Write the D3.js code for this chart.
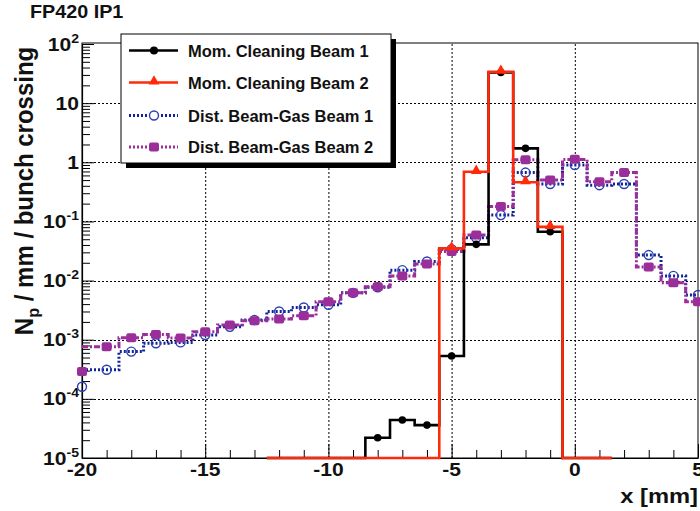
<!DOCTYPE html>
<html lang="en">
<head>
<meta charset="UTF-8">
<title>FP420 IP1</title>
<script src="https://cdn.jsdelivr.net/npm/d3@7"></script>
<style>
    body { margin: 0; background: #fff; }
    text { font-family: "Liberation Sans", Arial, sans-serif; font-weight: bold; fill: #111; }
</style>
</head>
<body>
<svg id="canvas" width="700" height="511"></svg>
<script>
// bin centres (mm) and contents
const gasX = [-20, -19, -18, -17, -16, -15, -14, -13, -12, -11, -10, -9, -8, -7, -6, -5, -4, -3, -2, -1, 0, 1, 2, 3, 4, 5];
const gasBeam1 = [1.6e-4, 3.1e-4, 6.3e-4, 8.7e-4, 9.0e-4, 1.2e-3, 1.65e-3, 2.15e-3, 3.0e-3, 3.5e-3, 3.9e-3, 6.2e-3, 7.7e-3,
                  0.015, 0.021, 0.034, 0.053, 0.128, 0.67, 0.43, 0.9, 0.41, 0.43, 0.027, 0.012, 0.0057];
const gasBeam2 = [2.9e-4, 7.6e-4, 1.08e-3, 1.22e-3, 1.07e-3, 1.36e-3, 1.78e-3, 2.1e-3, 2.24e-3, 2.55e-3, 4.4e-3, 6.2e-3, 7.9e-3,
                  0.012, 0.019, 0.031, 0.059, 0.178, 1.1, 0.5, 1.12, 0.47, 0.67, 0.017, 0.0092, 0.0044];

const momX = [-12, -11, -10, -9, -8, -7, -6, -5, -4, -3, -2, -1, 0, 1];
const momBeam1 = [0, 0, 0, 0, 2.2e-5, 4.4e-5, 3.6e-5, 5.3e-4, 0.041, 33, 1.72, 0.067, 0, 0];
const momBeam2 = [0, 0, 0, 0, 0, 0, 0, 0.035, 0.69, 34, 0.46, 0.081, 0, 0];

const seriesNames = ["Mom. Cleaning Beam 1", "Mom. Cleaning Beam 2", "Dist. Beam-Gas Beam 1", "Dist. Beam-Gas Beam 2"];

const xTickVals = [-20, -15, -10, -5, 0, 5];
const xTickLabels = ["-20", "-15", "-10", "-5", "0", "5"];
const yTickVals = [1e-5, 1e-4, 1e-3, 1e-2, 1e-1, 1, 10, 100];
const yTickBase = ["10", "10", "10", "10", "10", "1", "10", "10"];
const yTickExp = ["-5", "-4", "-3", "-2", "-1", "", "", "2"];

const svg = d3.select("#canvas");
const pLeft = 82, pRight = 698, pTop = 44, pBottom = 458;

const x = d3.scaleLinear().domain([-20, 5]).range([pLeft, pRight]);
const y = d3.scaleLog().domain([1e-5, 100]).range([pBottom, pTop]);
const yv = v => y(Math.max(v, 1e-5));   // empty bins sit on the axis

const blue = "#0f2496", purple = "#9a2e9a", red = "#ff2a0a";

// frame
svg.append("rect")
    .attr("x", pLeft).attr("y", pTop - 1)
    .attr("width", pRight - pLeft).attr("height", pBottom - pTop + 1)
    .attr("fill", "none").attr("stroke", "#000").attr("stroke-width", 1);

// grid
const grid = svg.append("g").attr("stroke", "#000").attr("stroke-width", 1).attr("stroke-dasharray", "2,2");
grid.selectAll("line.gx").data([-15, -10, -5, 0]).enter().append("line")
    .attr("x1", d => x(d) + 0.5).attr("x2", d => x(d) + 0.5)
    .attr("y1", pTop).attr("y2", pBottom);
grid.selectAll("line.gy").data([1e-4, 1e-3, 1e-2, 1e-1, 1, 10]).enter().append("line")
    .attr("x1", pLeft).attr("x2", pRight)
    .attr("y1", d => Math.round(y(d)) + 0.5).attr("y2", d => Math.round(y(d)) + 0.5);

// axes: ticks pointing into the frame
const xMinor = d3.range(-20, 6);
const xAxis = svg.append("g")
    .attr("transform", `translate(0,${pBottom})`)
    .call(d3.axisBottom(x).tickValues(xMinor).tickSize(-8).tickSizeOuter(0).tickFormat(""));
xAxis.selectAll(".tick line").filter(d => d % 5 === 0).attr("y2", -14);
xAxis.select(".domain").attr("stroke-width", 1.2);

const yMinor = [];
for (let e = -5; e < 2; e++) for (let k = 1; k < 10; k++) yMinor.push(k * Math.pow(10, e));
yMinor.push(100);
const yAxis = svg.append("g")
    .attr("transform", `translate(${pLeft},0)`)
    .call(d3.axisLeft(y).tickValues(yMinor).tickSize(-8).tickSizeOuter(0).tickFormat(""));
yAxis.selectAll(".tick line").filter(d => yTickVals.some(t => Math.abs(t - d) / t < 1e-9)).attr("x2", 12);
yAxis.select(".domain").attr("stroke-width", 1.2);

// tick labels (slightly wide lettering like the original)
xTickVals.forEach((v, i) => {
    svg.append("g").attr("transform", `translate(${x(v)},476) scale(1.17,1)`)
        .append("text").attr("text-anchor", "middle").attr("font-size", 18).text(xTickLabels[i]);
});
yTickVals.forEach((v, i) => {
    const t = svg.append("g").attr("transform", `translate(79,${y(v) + 6.5}) scale(1.17,1)`)
        .append("text").attr("text-anchor", "end").attr("font-size", 18);
    t.append("tspan").text(yTickBase[i]);
    if (yTickExp[i]) t.append("tspan").attr("dy", -8).attr("font-size", 12).text(yTickExp[i]);
});

// titles
svg.append("g").attr("transform", "translate(30,18) scale(1.04,1)")
    .append("text").attr("font-size", 19).text("FP420 IP1");
svg.append("g").attr("transform", "translate(698,503) scale(1.13,1)")
    .append("text").attr("text-anchor", "end").attr("font-size", 21).text("x [mm]");
const yt = svg.append("g").attr("transform", "translate(33,191) rotate(-90) scale(1.09,1.16)")
    .append("text").attr("text-anchor", "middle").attr("font-size", 22);
yt.append("tspan").text("N");
yt.append("tspan").attr("dy", 5).attr("font-size", 15).text("p");
yt.append("tspan").attr("dy", -5).text(" / mm / bunch crossing");

// histogram outline: one horizontal per bin, verticals join the bins
function steps(xs, vs, from) {
    const pts = [];
    xs.forEach((c, i) => {
        if (i < from) return;
        pts.push([c - 0.5, vs[i]], [c + 0.5, vs[i]]);
    });
    pts.forEach(p => p[0] = Math.max(-20, Math.min(5, p[0])));
    if (from > 0) pts[0][0] = -20;
    return pts;
}
const line = d3.line().x(d => x(d[0])).y(d => yv(d[1]));

// Dist. Beam-Gas Beam 1
svg.append("path").attr("d", line(steps(gasX, gasBeam1, 1)))
    .attr("fill", "none").attr("stroke", blue).attr("stroke-width", 3).attr("stroke-dasharray", "2,2");
// Dist. Beam-Gas Beam 2
svg.append("path").attr("d", line(steps(gasX, gasBeam2, 1)))
    .attr("fill", "none").attr("stroke", purple).attr("stroke-width", 3).attr("stroke-dasharray", "6,2,2,2");

svg.append("g").selectAll("circle").data(gasX).enter().append("circle")
    .attr("cx", d => x(d)).attr("cy", (d, i) => yv(gasBeam1[i])).attr("r", 4.5)
    .attr("fill", "none").attr("stroke", "#2b3fb5").attr("stroke-width", 1.4);
svg.append("g").selectAll("rect").data(gasX).enter().append("rect")
    .attr("x", d => x(d) - 5).attr("y", (d, i) => yv(gasBeam2[i]) - 4.5)
    .attr("width", 10).attr("height", 9).attr("rx", 2)
    .attr("fill", purple);

// Mom. Cleaning Beam 1
svg.append("path").attr("d", line(steps(momX, momBeam1, 0)))
    .attr("fill", "none").attr("stroke", "#000").attr("stroke-width", 2.6);
svg.append("g").selectAll("circle").data(momX.filter((d, i) => momBeam1[i] > 0)).enter().append("circle")
    .attr("cx", d => x(d)).attr("cy", d => yv(momBeam1[momX.indexOf(d)])).attr("r", 3.8)
    .attr("fill", "#000");

// Mom. Cleaning Beam 2
svg.append("path").attr("d", line(steps(momX, momBeam2, 0)))
    .attr("fill", "none").attr("stroke", red).attr("stroke-width", 2.6);
const tri = d3.symbol(d3.symbolTriangle).size(50);
svg.append("g").selectAll("path").data(momX.filter((d, i) => momBeam2[i] > 0)).enter().append("path")
    .attr("d", tri)
    .attr("transform", d => `translate(${x(d)},${yv(momBeam2[momX.indexOf(d)]) - 1})`)
    .attr("fill", red);

// legend
const lg = svg.append("g");
lg.append("rect").attr("x", 126).attr("y", 39).attr("width", 270).attr("height", 129).attr("fill", "#000");
lg.append("rect").attr("x", 121).attr("y", 34).attr("width", 270).attr("height", 129)
    .attr("fill", "#fff").attr("stroke", "#000").attr("stroke-width", 1);
const rowY = [50.5, 82.5, 115.5, 147];
const lineStyles = [
    {c: "#000", w: 2.6, dash: null},
    {c: red, w: 2.6, dash: null},
    {c: blue, w: 3, dash: "2,2"},
    {c: purple, w: 3, dash: "2,2"}
];
seriesNames.forEach((name, i) => {
    const s = lineStyles[i];
    lg.append("line").attr("x1", 129).attr("x2", 178).attr("y1", rowY[i]).attr("y2", rowY[i])
        .attr("stroke", s.c).attr("stroke-width", s.w).attr("stroke-dasharray", s.dash);
    lg.append("text").attr("x", 188).attr("y", rowY[i] + 6).attr("font-size", 16.5).text(name);
});
lg.append("circle").attr("cx", 154).attr("cy", rowY[0]).attr("r", 4).attr("fill", "#000");
lg.append("path").attr("d", tri).attr("transform", `translate(154,${rowY[1] - 1})`).attr("fill", red);
lg.append("circle").attr("cx", 154).attr("cy", rowY[2]).attr("r", 4.5)
    .attr("fill", "#fff").attr("stroke", "#2b3fb5").attr("stroke-width", 1.4);
lg.append("rect").attr("x", 149).attr("y", rowY[3] - 4.5).attr("width", 10).attr("height", 9).attr("rx", 2).attr("fill", purple);
</script>
</body>
</html>
